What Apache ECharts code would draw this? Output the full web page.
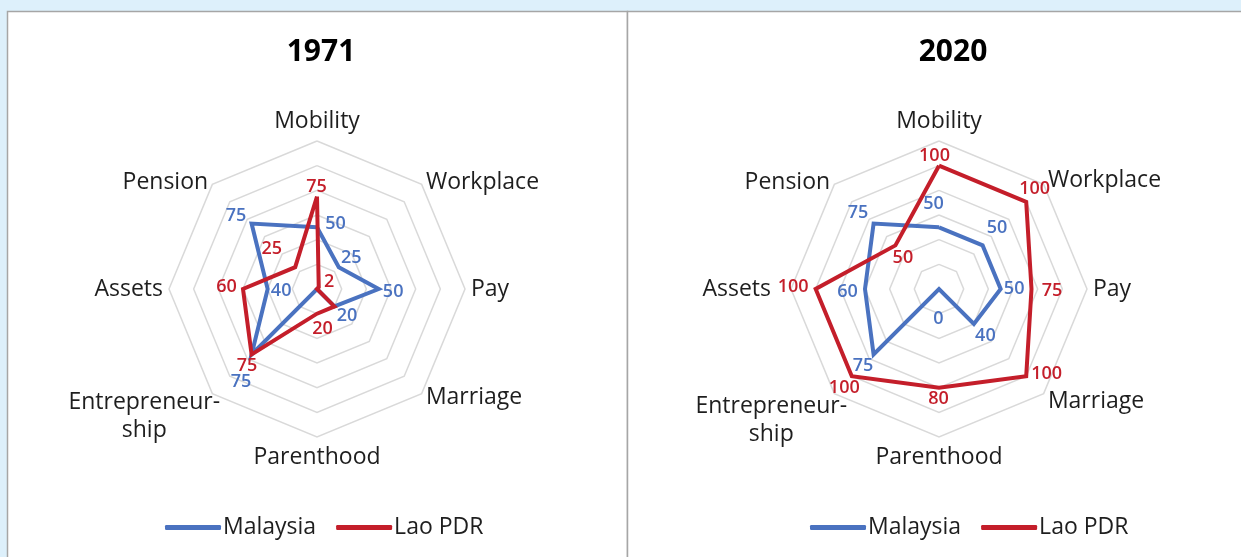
<!DOCTYPE html>
<html>
<head>
    <meta charset="utf-8">
    <script src="https://cdn.jsdelivr.net/npm/echarts@6.0.0/dist/echarts.min.js"></script>
    <style>
        html, body { margin: 0; padding: 0; background: #ddf0fb; }
        #main { width: 1241px; height: 557px; }
    </style>
</head>
<body>
<div id="main"></div>

<script type="text/javascript">
    // data
    var indicators = ['Mobility', 'Workplace', 'Pay', 'Marriage', 'Parenthood', 'Entrepreneurship', 'Assets', 'Pension'];
    var indicatorLabels = ['Mobility', 'Workplace', 'Pay', 'Marriage', 'Parenthood', 'Entrepreneur-\nship', 'Assets', 'Pension'];
    var years = ['1971', '2020'];
    var countries = ['Malaysia', 'Lao PDR'];
    var malaysia1971 = [50, 25, 50, 20, 0, 75, 40, 75];
    var lao1971 = [75, 2, 0, 20, 20, 75, 60, 25];
    var malaysia2020 = [50, 50, 50, 40, 0, 75, 60, 75];
    var lao2020 = [100, 100, 75, 100, 80, 100, 100, 50];
    var axisMax = 120;

    // label centre offset from its vertex (null = no label)
    var labelOffsets = [
        [[19, -3], [13, -9], [15, 3], [13, 10], null, [-10, 28], [14, 2], [-15, -7]],
        [[0, -9], [11, -5], null, null, [6, 16], [-4, 12], [-16, -2], [-23, -18]],
        [[-5, -23], [15, -17], [14, 0], [12, 12], [0, 30], [-10, 12], [-17, 3], [-15, -10]],
        [[-4, -9], [9, -12], [21, 2], [21, -2], [0, 12], [-7, 12], [-22, -2], [8, 13]]
    ];
    // axis name nudges per panel: padding [top, right, bottom, left], lead = extra empty line height
    var nameNudge = [
        {'Entrepreneurship': {padding: [0, -12, 0, 0], lead: 38}, 'Pension': {padding: [4, 0, 0, 0]},
            'Workplace': {padding: [4, 0, 0, 0]}},
        {'Entrepreneurship': {padding: [0, -17, 0, 0], lead: 46}, 'Assets': {padding: [0, 14, 0, 0]},
            'Marriage': {padding: [8, 0, 0, 0]}, 'Pension': {padding: [4, 0, 0, 0]}}
    ];

    var colors = ['#4a72c0', '#c41e2a'];
    var font = 'Open Sans';
    var nameColor = '#1e1e1e';

    // echarts radar runs counter-clockwise, the picture runs clockwise
    var order = [0, 7, 6, 5, 4, 3, 2, 1];
    function reorder(arr) {
        return order.map(function (k) { return arr[k]; });
    }

    var myChart = echarts.init(document.getElementById('main'));

    var radars = [];
    var series = [];
    var panelData = [[malaysia1971, lao1971], [malaysia2020, lao2020]];
    var centers = [317, 939];

    function nameRich(nudge) {
        var rich = {c: {align: 'center', color: nameColor, fontSize: 23, fontFamily: font, lineHeight: 28}};
        indicators.forEach(function (name, i) {
            var n = nudge[name];
            if (!n) return;
            rich['p' + i] = {align: 'center', color: nameColor, fontSize: 23, fontFamily: font,
                lineHeight: 28, padding: n.padding};
            if (n.lead) {
                rich['s' + i] = {fontSize: 2, lineHeight: n.lead};
            }
        });
        return rich;
    }

    function nameFormatter(nudge) {
        return function (name) {
            var i = indicators.indexOf(name);
            var n = nudge[name];
            var key = n ? 'p' + i : 'c';
            var out = indicatorLabels[i].split('\n').map(function (s) {
                return '{' + key + '|' + s + '}';
            });
            if (n && n.lead) out.unshift('{s' + i + '| }');
            return out.join('\n');
        };
    }

    for (var r = 0; r < 2; r++) {
        radars.push({
            center: [centers[r], 289],
            radius: 148,
            startAngle: 90,
            shape: 'polygon',
            splitNumber: 6,
            indicator: reorder(indicators).map(function (name) {
                return {name: name, min: 0, max: axisMax};
            }),
            axisName: {
                color: nameColor,
                fontSize: 23,
                fontFamily: font,
                formatter: nameFormatter(nameNudge[r]),
                rich: nameRich(nameNudge[r])
            },
            nameGap: 6,
            axisLine: {show: false},
            axisTick: {show: false},
            axisLabel: {show: false},
            splitArea: {show: false},
            splitLine: {lineStyle: {color: '#d9d9d9', width: 1.5}}
        });

        for (var s = 0; s < 2; s++) {
            var vals = panelData[r][s];
            var offs = labelOffsets[r * 2 + s];
            var items = [{
                value: reorder(vals),
                symbol: 'none',
                lineStyle: {color: colors[s], width: 4, join: 'miter', miterLimit: 10}
            }];
            for (var k = 0; k < indicators.length; k++) {
                if (!offs[k]) continue;
                items.push({
                    value: reorder(vals),
                    symbol: 'circle',
                    symbolSize: 1,
                    itemStyle: {color: 'rgba(0,0,0,0)'},
                    lineStyle: {opacity: 0},
                    label: {
                        show: true,
                        position: offs[k],
                        align: 'center',
                        verticalAlign: 'middle',
                        color: colors[s],
                        fontSize: 18,
                        fontWeight: 600,
                        fontFamily: font,
                        formatter: (function (kk) {
                            return function (p) {
                                return order[p.dimensionIndex] === kk ? String(p.value) : '';
                            };
                        })(k)
                    }
                });
            }
            series.push({
                type: 'radar',
                name: countries[s],
                radarIndex: r,
                color: colors[s],
                silent: true,
                lineStyle: {color: colors[s], width: 4},
                data: items
            });
        }
    }

    var legendBase = {
        data: countries,
        icon: 'roundRect',
        itemWidth: 56,
        itemHeight: 5,
        itemGap: 20,
        top: 511,
        textStyle: {color: nameColor, fontSize: 23, fontFamily: font, padding: [0, 0, 0, -3]}
    };

    myChart.setOption({
        backgroundColor: '#ddf0fb',
        animation: false,
        graphic: [
            {type: 'rect', z: -10, shape: {x: 7.5, y: 11.5, width: 620, height: 600},
                style: {fill: '#fff', stroke: '#a6a6a6', lineWidth: 1.5}},
            {type: 'rect', z: -10, shape: {x: 627.5, y: 11.5, width: 620, height: 600},
                style: {fill: '#fff', stroke: '#a6a6a6', lineWidth: 1.5}}
        ],
        title: [
            {text: years[0], left: 316, top: 32, textAlign: 'center',
                textStyle: {color: '#000', fontSize: 30, fontWeight: 'bold', fontFamily: font}},
            {text: years[1], left: 948, top: 32, textAlign: 'center',
                textStyle: {color: '#000', fontSize: 30, fontWeight: 'bold', fontFamily: font}}
        ],
        legend: [
            Object.assign({left: 160}, legendBase),
            Object.assign({left: 805}, legendBase)
        ],
        radar: radars,
        series: series
    });
</script>
</body>
</html>
